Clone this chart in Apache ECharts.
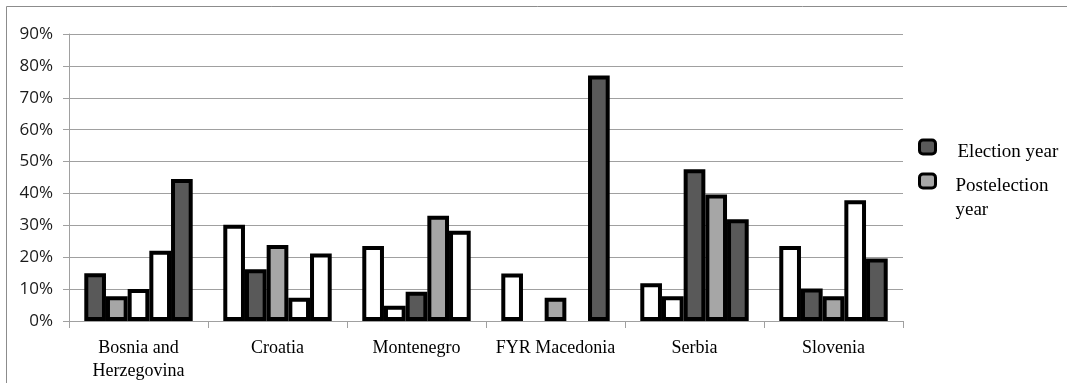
<!DOCTYPE html>
<html>
<head>
<meta charset="utf-8">
<script src="https://cdn.jsdelivr.net/npm/echarts@6/dist/echarts.min.js"></script>
<style>
  html, body { margin: 0; padding: 0; background: #fff; }
  #chart { width: 1067px; height: 383px; }
</style>
</head>
<body>
<div id="chart"></div>
<script>
// Countries on the category axis
const countries = ['Bosnia and\nHerzegovina', 'Croatia', 'Montenegro', 'FYR Macedonia', 'Serbia', 'Slovenia'];

// Five yearly bars per country (percent); null = no bar in that slot
const bosnia     = [15.0, 7.8, 10.0, 22.0, 44.5];
const croatia    = [30.2, 16.2, 23.8, 7.3, 21.2];
const montenegro = [23.5, 4.8, 9.2, 33.0, 28.3];
const macedonia  = [14.9, null, 7.3, null, 77.0];
const serbia     = [11.8, 7.8, 47.6, 39.7, 31.9];
const slovenia   = [23.5, 10.2, 7.8, 37.9, 19.6];

// Year type of each bar: E = election year, P = postelection year, O = other year
const bosniaKind     = ['E', 'P', 'O', 'O', 'E'];
const croatiaKind    = ['O', 'E', 'P', 'O', 'O'];
const montenegroKind = ['O', 'O', 'E', 'P', 'O'];
const macedoniaKind  = ['O', 'O', 'P', 'O', 'E'];
const serbiaKind     = ['O', 'O', 'E', 'P', 'E'];
const sloveniaKind   = ['O', 'E', 'P', 'O', 'E'];

// Y axis tick range (percent)
const yMin = 0, yMax = 90, yStep = 10;

const legendNames = ['Election year', 'Postelection year'];

const kindColor = { E: '#595959', P: '#a6a6a6', O: '#ffffff' };

const valueRows = [bosnia, croatia, montenegro, macedonia, serbia, slovenia];
const kindRows = [bosniaKind, croatiaKind, montenegroKind, macedoniaKind, serbiaKind, sloveniaKind];

const barSeries = [0, 1, 2, 3, 4].map(slot => ({
  type: 'bar',
  name: 'slot' + slot,
  barGap: '0%',
  barCategoryGap: '22%',
  data: valueRows.map((row, ci) => ({
    value: row[slot],
    itemStyle: { color: kindColor[kindRows[ci][slot]] }
  })),
  itemStyle: { borderColor: '#000', borderWidth: 4 },
  emphasis: { disabled: true }
}));

// Legend-only entries (no data of their own)
const legendSeries = [
  { type: 'line', name: legendNames[0], data: [], itemStyle: { color: kindColor.E } },
  { type: 'line', name: legendNames[1], data: [], itemStyle: { color: kindColor.P } }
];

const legendText = { fontFamily: 'Liberation Serif', fontSize: 19, lineHeight: 24, color: '#000' };

const chart = echarts.init(document.getElementById('chart'), null, { renderer: 'canvas' });

chart.setOption({
  animation: false,
  backgroundColor: '#fff',
  graphic: [{
    type: 'rect',
    shape: { x: 6.5, y: 6.5, width: 1200, height: 600 },
    style: { fill: 'none', stroke: '#8c8c8c', lineWidth: 1 },
    silent: true
  }],
  grid: { left: 69, right: 164, top: 34, bottom: 62, containLabel: false },
  legend: {
    data: legendNames,
    orient: 'vertical',
    left: 918,
    top: 132,
    padding: 0,
    itemGap: -20,
    itemWidth: 16,
    itemHeight: 14,
    icon: 'roundRect',
    itemStyle: { borderColor: '#000', borderWidth: 3 },
    selectedMode: false,
    formatter: function (name) {
      return name === 'Postelection year' ? '{b|Postelection\nyear}' : '{a|' + name + '}';
    },
    textStyle: Object.assign({}, legendText, {
      rich: {
        a: Object.assign({}, legendText, { padding: [11, 0, 0, 17] }),
        b: Object.assign({}, legendText, { padding: [35, 0, 0, 15] })
      }
    })
  },
  xAxis: {
    type: 'category',
    data: countries,
    axisLine: { lineStyle: { color: '#a0a0a0', width: 1 } },
    axisTick: { show: true, length: 7, lineStyle: { color: '#a0a0a0' } },
    axisLabel: {
      margin: 16,
      fontFamily: 'Liberation Serif',
      fontSize: 18,
      lineHeight: 23,
      color: '#000',
      interval: 0
    }
  },
  yAxis: {
    type: 'value',
    min: yMin,
    max: yMax,
    interval: yStep,
    axisLine: { show: true, lineStyle: { color: '#a0a0a0', width: 1 } },
    axisTick: { show: true, length: 6, lineStyle: { color: '#a0a0a0' } },
    splitLine: { lineStyle: { color: '#a0a0a0', width: 1 } },
    axisLabel: {
      formatter: '{value}%',
      margin: 16,
      fontFamily: 'Open Sans',
      fontSize: 17,
      color: '#1a1a1a'
    }
  },
  series: barSeries.concat(legendSeries)
});
</script>
</body>
</html>
